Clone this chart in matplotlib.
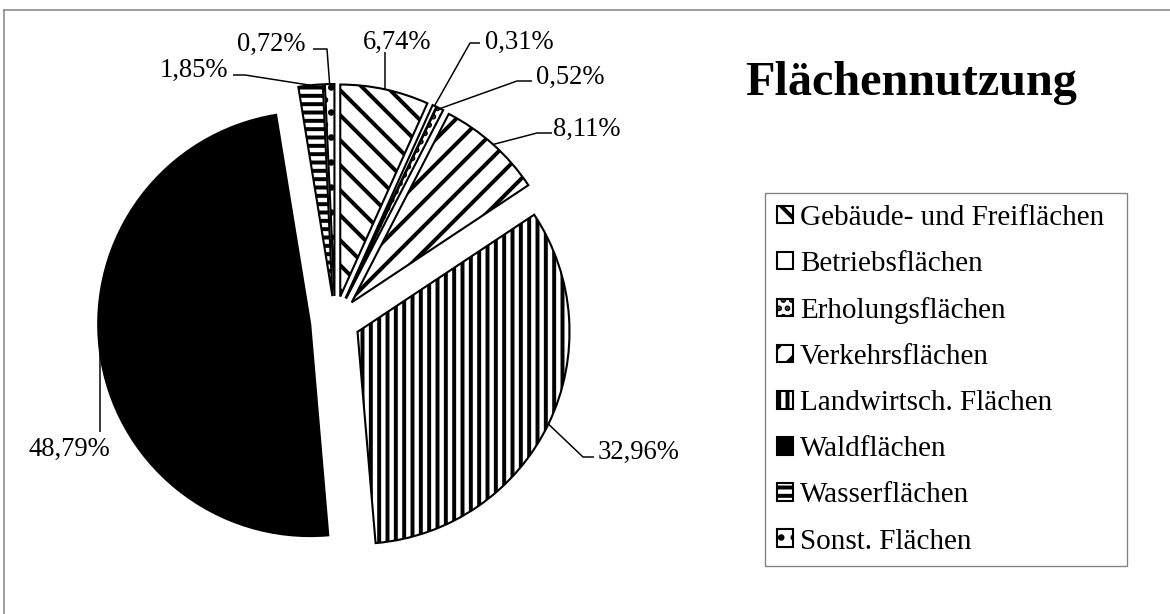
import numpy as np
import matplotlib
matplotlib.use('Agg')
import matplotlib.pyplot as plt
from matplotlib.lines import Line2D

plt.rcParams['font.family'] = ['Liberation Serif', 'DejaVu Serif']
plt.rcParams['hatch.linewidth'] = 1.9

# Flächennutzung in Prozent
names = ['Gebäude- und Freiflächen', 'Betriebsflächen', 'Erholungsflächen',
         'Verkehrsflächen', 'Landwirtsch. Flächen', 'Waldflächen',
         'Wasserflächen', 'Sonst. Flächen']
shares = [6.74, 0.31, 0.52, 8.11, 32.96, 48.79, 1.85, 0.72]

# fill + hatch per slice (b/w print style)
fills = ['white', 'white', 'white', 'white', 'white', 'black', 'white', 'white']
hatches = ['\\\\', '', '...', '//', '|||', '', '---', '..']

# label layout in pixels (top-left origin): text centre, knee of leader, end of leader
label_pos = [(397, 40), (519, 40), (570, 75), (587, 127),
             (639, 450), (69, 447), (194, 68), (271, 42)]
leader_knees = [None, (470, 43), (517, 81), (537, 133),
                (583, 457), None, (245, 75), (327, 49)]
leader_ends = [(None, 52), (480, 43), (532, 81), (552, 133),
               (594, 457), (None, 432), (233, 75), (313, 49)]

W, H, DPI = 1170, 614, 150
fig = plt.figure(figsize=(W / DPI, H / DPI), dpi=DPI)
ax = fig.add_axes([0, 0, 1, 1])

wedges, _ = ax.pie(shares, center=(335, 321), radius=212,
                   explode=[25] * len(shares), startangle=-90, counterclock=True,
                   colors=fills, wedgeprops=dict(edgecolor='black', linewidth=1.0))
for w, h in zip(wedges, hatches):
    w.set_hatch(h)

# pixel coordinates, y pointing down
ax.set_xlim(0, W)
ax.set_ylim(H, 0)
ax.set_aspect('auto')
ax.axis('off')

for w, v, (tx, ty), knee, end in zip(wedges, shares, label_pos, leader_knees, leader_ends):
    tm = np.deg2rad((w.theta1 + w.theta2) / 2)
    x0 = w.center[0] + w.r * np.cos(tm)
    y0 = w.center[1] + w.r * np.sin(tm)
    pts = [(x0, y0)]
    if knee is not None:
        pts.append(knee)
    pts.append((x0 if end[0] is None else end[0], end[1]))
    xs, ys = zip(*pts)
    ax.plot(xs, ys, color='black', lw=0.72, solid_capstyle='butt')
    lbl = f'{v:.2f}%'.replace('.', ',')
    ax.text(tx, ty + 9, lbl, ha='center', va='baseline', fontsize=12.8)

fig.text(911 / W, 1 - 95 / H, 'Flächennutzung', fontsize=23.2, fontweight='bold',
         ha='center', va='baseline')

leg = ax.legend(wedges, names, loc='upper left',
                bbox_to_anchor=(765 / W, 1 - 565 / H, 362 / W, 372 / H),
                bbox_transform=fig.transFigure, mode='expand', borderaxespad=0,
                fontsize=14, handlelength=0.55, handleheight=0.55,
                handletextpad=0.25, labelspacing=0.69, borderpad=0.4,
                fancybox=False, framealpha=1)
leg.get_frame().set_edgecolor('#808080')
leg.get_frame().set_linewidth(0.64)

# outer frame of the chart area (only top and left visible)
fig.add_artist(Line2D([4 / W, 4 / W], [0, 1 - 10 / H], transform=fig.transFigure,
                      color='#808080', lw=0.72))
fig.add_artist(Line2D([4 / W, 1], [1 - 10 / H, 1 - 10 / H], transform=fig.transFigure,
                      color='#808080', lw=0.72))

fig.savefig('out.png', dpi=DPI)
